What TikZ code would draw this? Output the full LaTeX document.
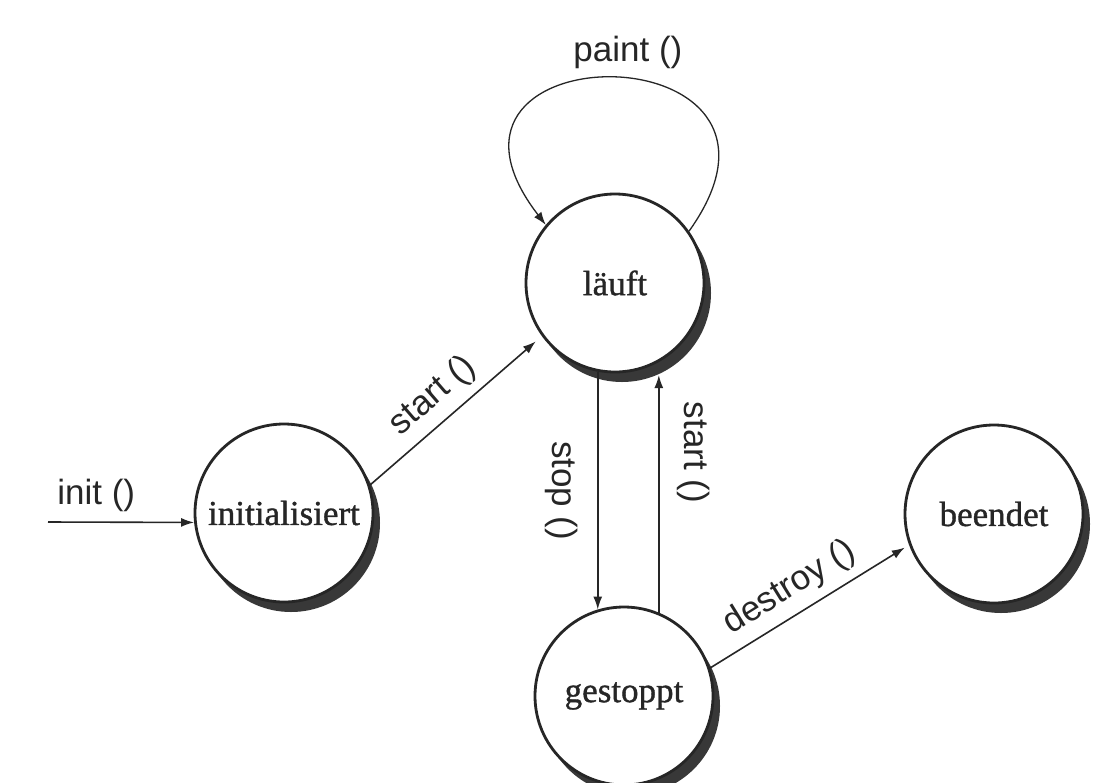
\documentclass[tikz,border=0pt]{standalone}
\usepackage{fontspec}
\setmainfont{Liberation Serif}
\newfontfamily\statefont[FakeBold=1]{Liberation Serif}
\newfontfamily\lblfont{Liberation Sans}
\usetikzlibrary{arrows.meta,shadows}
\begin{document}
\begin{tikzpicture}[x=1pt,y=-1pt,
  state/.style={circle, draw=black!85, line width=2.8pt, fill=white,
    minimum size=178pt, inner sep=0pt, text=black!85,
    font=\statefont\fontsize{35}{40}\selectfont,
    drop shadow={shadow xshift=7pt, shadow yshift=-10pt, fill=black!78, opacity=1}},
  trans/.style={draw=black!85, line width=1.6pt},
  fwd/.style={trans, -{Latex[length=13pt,width=9pt]}},
  bwd/.style={trans, {Latex[length=13pt,width=9pt]}-},
  lbl/.style={font=\lblfont\fontsize{35}{40}\selectfont, text=black!85, inner sep=3pt}
]
\useasboundingbox (0,0) rectangle (1094,782);
\fill[white] (0,0) rectangle (1094,782);

\node[state] (i) at (284,513) {initialisiert};
\node[state] (l) at (615,283) {läuft};
\node[state] (g) at (624,696) {gestoppt};
\node[state] (b) at (994,514) {beendet};
\coordinate (s) at (48,522);

\draw[fwd] (s) -- node[lbl, above=7pt, pos=0.33] {init ()} (i.186);
\draw[fwd, shorten >=8pt] (i.18) -- node[lbl, sloped, above=6pt, pos=0.465] {start ()} (l.216);
\draw[fwd] (l.259) -- node[lbl, sloped, below=16pt, pos=0.5] {stop ()} (g.107 -| l.259);
\draw[bwd, shorten <=13pt] (l.299) -- node[lbl, sloped, above=15pt, pos=0.36] {start ()} (g.67.5 -| l.299);
\draw[fwd, shorten >=5pt] (g.18) -- node[lbl, sloped, above=6pt, pos=0.47] {destroy ()} (b.200);
\draw[fwd, line width=1.3pt] (l.35) .. controls (834,28) and (394,28) .. node[lbl, above=6pt, pos=0.47] {paint ()} (l.140);
\end{tikzpicture}
\end{document}
